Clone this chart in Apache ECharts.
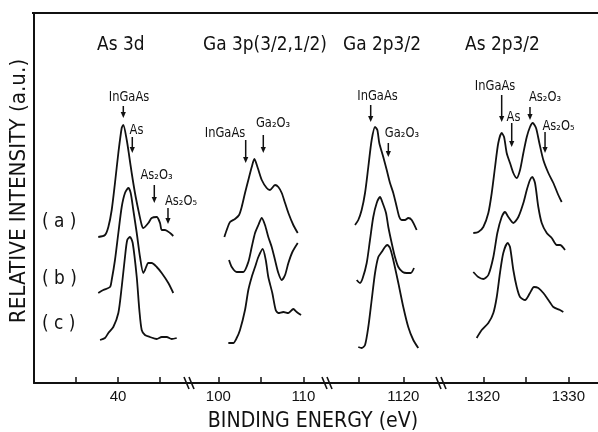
<!DOCTYPE html>
<html>
<head>
<meta charset="utf-8">
<script src="https://cdn.jsdelivr.net/npm/echarts@6/dist/echarts.min.js"></script>
<style>
  html, body { margin: 0; padding: 0; background: #fff; }
  #chart { width: 598px; height: 432px; }
</style>
</head>
<body>
<div id="chart"></div>
<script>
'use strict';

// broken energy axis: one panel per core level (eV)
const panelTitles = ['As 3d', 'Ga 3p(3/2,1/2)', 'Ga 2p3/2', 'As 2p3/2'];
const panelRanges = [[30, 48.57], [96.67, 112.9], [1111.5, 1124.37], [1315.14, 1333.49]];
const tickValues = [[35, 40, 45], [100, 105, 110], [1115, 1120], [1320, 1325, 1330]];
const tickLabels = [[40], [100, 110], [1120], [1320, 1330]];
const sampleLabels = ['( a )', '( b )', '( c )'];

// spectra [binding energy, relative intensity], curves already offset (a) > (b) > (c)
const as3dA = [[37.65,146],[38.45,148],[38.85,156],[39.25,173],[39.64,200],[40.04,230],[40.44,255],[40.63,258],[41.04,243],[41.35,226],[41.63,210],[42.02,190],[42.42,173],[42.82,158],[43.01,155],[43.61,160],[44.01,165],[44.61,166],[45.0,160],[45.2,153],[45.6,153],[46.19,150],[46.58,147]];
const as3dB = [[37.65,90],[38.25,93],[39.05,96],[39.25,103],[39.64,123],[40.04,150],[40.44,176],[40.83,190],[41.23,195],[41.51,190],[41.82,173],[42.23,150],[42.62,126],[43.01,110],[43.21,113],[43.61,120],[44.01,120],[44.61,116],[45.2,110],[45.99,100],[46.58,90]];
const as3dC = [[37.86,43],[38.45,45],[38.85,50],[39.44,56],[40.04,70],[40.44,96],[40.83,126],[41.1,143],[41.43,146],[41.75,140],[42.23,106],[42.54,73],[42.82,53],[43.21,48],[43.81,46],[44.61,44],[45.2,46],[45.8,46],[46.39,44],[46.99,45]];

const ga3pA = [[100.71,146],[100.99,153],[101.38,161],[101.96,164],[102.44,168],[102.75,176],[103.14,190],[103.53,203],[103.93,216],[104.24,224],[104.64,215],[105.11,203],[105.69,195],[106.08,193],[106.67,198],[107.06,196],[107.46,190],[107.85,180],[108.24,170],[108.82,158],[109.34,150]];
const ga3pB = [[101.26,123],[101.58,116],[102.16,111],[102.94,111],[103.53,121],[103.93,136],[104.32,150],[104.71,158],[105.11,165],[105.49,158],[105.88,146],[106.28,136],[106.67,123],[107.06,110],[107.46,103],[107.85,108],[108.24,120],[108.71,131],[109.34,140]];
const ga3pC = [[101.18,40],[101.76,40],[102.16,45],[102.55,53],[103.14,73],[103.53,93],[103.93,106],[104.32,116],[104.71,126],[105.22,134],[105.58,123],[105.88,106],[106.35,90],[106.75,73],[107.06,70],[107.65,71],[108.24,70],[108.82,74],[109.22,71],[109.73,68]];

const ga2pA = [[1114.55,158],[1114.92,163],[1115.30,173],[1115.68,190],[1116.05,216],[1116.43,243],[1116.81,256],[1117.07,253],[1117.29,240],[1117.74,226],[1118.13,213],[1118.50,200],[1118.87,190],[1119.26,176],[1119.55,166],[1119.82,163],[1120.19,163],[1120.56,165],[1120.95,163],[1121.51,153]];
const ga2pB = [[1114.74,103],[1115.11,100],[1115.42,105],[1115.87,120],[1116.24,143],[1116.61,166],[1117.00,180],[1117.37,186],[1117.67,180],[1118.05,170],[1118.31,156],[1118.69,140],[1119.06,126],[1119.44,116],[1119.93,111],[1120.38,110],[1120.84,110],[1121.21,115]];
const ga2pC = [[1114.92,36],[1115.30,35],[1115.68,38],[1116.05,56],[1116.43,83],[1116.81,110],[1117.18,126],[1117.56,131],[1117.93,136],[1118.19,138],[1118.50,135],[1118.87,123],[1119.44,100],[1120.00,76],[1120.56,56],[1121.13,43],[1121.69,35]];

const as2pA = [[1318.82,150],[1319.41,151],[1320.00,156],[1320.59,170],[1320.99,190],[1321.38,216],[1321.76,240],[1322.16,250],[1322.44,246],[1322.75,230],[1323.14,220],[1323.53,210],[1323.93,205],[1324.32,213],[1324.71,230],[1325.11,246],[1325.49,256],[1325.81,260],[1326.20,255],[1326.59,240],[1327.06,223],[1327.65,210],[1328.24,200],[1328.82,188],[1329.22,181]];
const as2pB = [[1318.82,111],[1319.41,106],[1320.00,104],[1320.59,108],[1321.18,126],[1321.65,150],[1322.16,166],[1322.55,171],[1322.94,166],[1323.53,160],[1324.12,166],[1324.71,180],[1325.11,193],[1325.49,203],[1325.76,206],[1326.08,200],[1326.47,176],[1326.87,160],[1327.46,150],[1328.05,145],[1328.64,138],[1329.02,138],[1329.61,133]];
const as2pC = [[1319.22,45],[1319.81,53],[1320.59,60],[1321.18,70],[1321.58,86],[1321.96,110],[1322.35,130],[1322.87,140],[1323.14,136],[1323.53,113],[1323.93,96],[1324.32,86],[1324.91,83],[1325.49,90],[1325.96,96],[1326.47,95],[1327.06,90],[1327.65,83],[1328.24,76],[1329.02,73],[1329.41,71]];

// peak assignments: [panel, label, energy, arrow top, arrow tip, label energy, label height]
const peakMarks = [
  [0, 'InGaAs', 40.63, 277, 265, 41.31, 285],
  [0, 'As', 41.70, 246, 230, 42.2, 252],
  [0, 'As₂O₃', 44.32, 198, 180, 44.58, 207],
  [0, 'As₂O₅', 45.95, 175, 159, 47.5, 181],
  [1, 'InGaAs', 103.22, 243, 220, 100.79, 249],
  [1, 'Ga₂O₃', 105.29, 248, 230, 106.44, 259],
  [2, 'InGaAs', 1116.32, 278, 261, 1117.09, 286],
  [2, 'Ga₂O₃', 1118.31, 240, 226, 1119.85, 249],
  [3, 'InGaAs', 1322.16, 288, 261, 1321.38, 296],
  [3, 'As', 1323.34, 260, 236, 1323.55, 265],
  [3, 'As₂O₃', 1325.49, 276, 263, 1327.26, 285],
  [3, 'As₂O₅', 1327.26, 251, 230, 1328.85, 256]
];

const spectra = [
  [as3dA, as3dB, as3dC],
  [ga3pA, ga3pB, ga3pC],
  [ga2pA, ga2pB, ga2pC],
  [as2pA, as2pB, as2pC]
];

const ink = '#111';
const font = '"DejaVu Sans", sans-serif';

// layout of the panels, px
const panelBoxes = [[34, 156], [190, 138], [328, 114], [442, 156]];
const plotTop = 13;
const plotHeight = 370;
const plotBottom = plotTop + plotHeight;

const chart = echarts.init(document.getElementById('chart'));

chart.setOption({
  animation: false,
  backgroundColor: '#fff',
  grid: panelBoxes.map(([left, width]) => ({ left, width, top: plotTop, height: plotHeight })),
  xAxis: panelRanges.map((r, i) => ({
    type: 'value',
    gridIndex: i,
    min: r[0],
    max: r[1],
    splitLine: { show: false },
    axisLine: { show: true, onZero: false, lineStyle: { color: ink, width: 2 } },
    axisTick: { show: true, inside: true, length: 6, customValues: tickValues[i], lineStyle: { color: ink, width: 1.5 } },
    axisLabel: {
      show: true, customValues: tickLabels[i], margin: 6, color: ink,
      fontSize: 15, fontFamily: '"Liberation Sans", sans-serif',
      formatter: (v) => String(v)
    }
  })),
  yAxis: panelRanges.map((r, i) => ({
    type: 'value',
    gridIndex: i,
    min: 0,
    max: plotHeight,
    show: i === 0,
    splitLine: { show: false },
    axisTick: { show: false },
    axisLabel: { show: false },
    axisLine: { show: true, lineStyle: { color: ink, width: 2 } }
  })),
  series: spectra.flatMap((set, i) => set.map((data) => ({
    type: 'line',
    xAxisIndex: i,
    yAxisIndex: i,
    data: data,
    smooth: 0.25,
    symbol: 'none',
    silent: true,
    lineStyle: { color: ink, width: 1.8 }
  })))
});

// texts, arrows and axis breaks
const graphics = [];

graphics.push({
  type: 'line', silent: true,
  shape: { x1: 32, y1: plotTop, x2: 598, y2: plotTop },
  style: { stroke: ink, lineWidth: 2 }
});

const titleLeft = [97, 203, 343, 465];
panelTitles.forEach((t, i) => {
  graphics.push({
    type: 'text', x: titleLeft[i], y: 45, scaleY: 1.15, silent: true,
    style: { text: t, fill: ink, fontSize: 17, fontFamily: font, verticalAlign: 'middle' }
  });
});

const sampleY = [222, 279, 324];
sampleLabels.forEach((t, k) => {
  graphics.push({
    type: 'text', x: 42, y: sampleY[k], scaleY: 1.15, silent: true,
    style: { text: t, fill: ink, fontSize: 17, fontFamily: font, verticalAlign: 'middle' }
  });
});

graphics.push({
  type: 'text', x: 20, y: 191, rotation: Math.PI / 2, scaleY: 1.05, silent: true,
  style: { text: 'RELATIVE INTENSITY (a.u.)', fill: ink, fontSize: 20, fontFamily: font, align: 'center', verticalAlign: 'middle' }
});

graphics.push({
  type: 'text', x: 313, y: 421, scaleY: 1.15, silent: true,
  style: { text: 'BINDING ENERGY (eV)', fill: ink, fontSize: 19, fontFamily: font, align: 'center', verticalAlign: 'middle' }
});

// axis break marks at the panel joints
panelBoxes.slice(1).forEach(([left]) => {
  [-3, 2].forEach((dx) => {
    graphics.push({
      type: 'line', silent: true,
      shape: { x1: left + dx - 3, y1: plotBottom - 6, x2: left + dx + 2, y2: plotBottom + 6 },
      style: { stroke: ink, lineWidth: 1.6 }
    });
  });
});

peakMarks.forEach(([g, label, e, top, tip, le, lh]) => {
  const p0 = chart.convertToPixel({ gridIndex: g }, [e, top]);
  const p1 = chart.convertToPixel({ gridIndex: g }, [e, tip]);
  const pl = chart.convertToPixel({ gridIndex: g }, [le, lh]);
  graphics.push({
    type: 'line', silent: true,
    shape: { x1: p0[0], y1: p0[1], x2: p1[0], y2: p1[1] - 4 },
    style: { stroke: ink, lineWidth: 1.5 }
  });
  graphics.push({
    type: 'polygon', silent: true,
    shape: { points: [[p1[0] - 2.6, p1[1] - 6], [p1[0] + 2.6, p1[1] - 6], [p1[0], p1[1]]] },
    style: { fill: ink }
  });
  graphics.push({
    type: 'text', x: pl[0], y: pl[1], scaleY: 1.15, silent: true,
    style: { text: label, fill: ink, fontSize: 11.5, fontFamily: font, align: 'center', verticalAlign: 'middle' }
  });
});

chart.setOption({ graphic: graphics });
</script>
</body>
</html>
